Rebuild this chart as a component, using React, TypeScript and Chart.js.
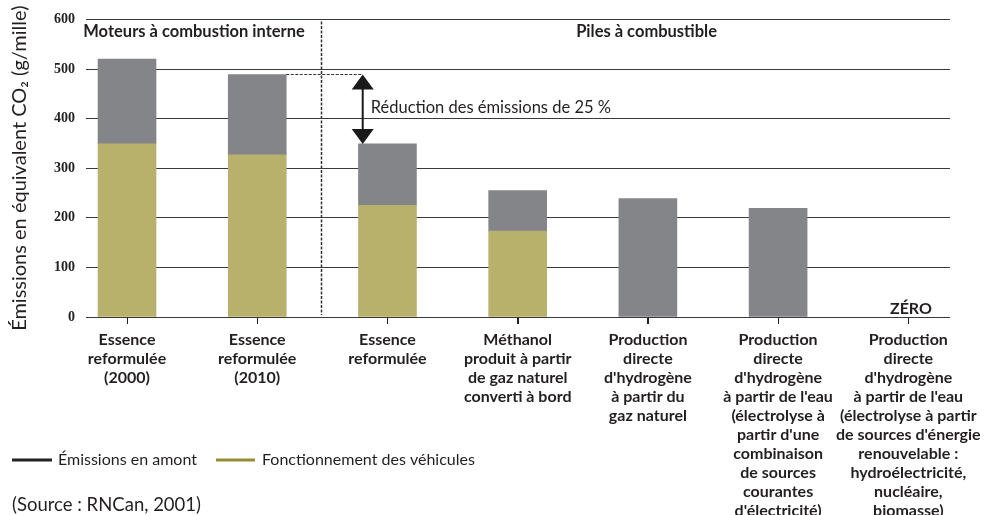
import React, { useEffect, useRef } from "react";
import { Chart, registerables } from "chart.js";

Chart.register(...registerables);

const categories: string[][] = [
  ["Essence", "reformulée", "(2000)"],
  ["Essence", "reformulée", "(2010)"],
  ["Essence", "reformulée"],
  ["Méthanol", "produit à partir", "de gaz naturel", "converti à bord"],
  ["Production", "directe", "d'hydrogène", "à partir du", "gaz naturel"],
  ["Production", "directe", "d'hydrogène", "à partir de l'eau", "(électrolyse à", "partir d'une", "combinaison", "de sources", "courantes", "d'électricité)"],
  ["Production", "directe", "d'hydrogène", "à partir de l'eau", "(électrolyse à partir", "de sources d'énergie", "renouvelable :", "hydroélectricité,", "nucléaire,", "biomasse)"],
];

const vehicleOps: number[] = [349, 327, 225, 173, 0, 0, 0];
const upstream: number[] = [171, 162, 124, 82, 239, 219, 0];
const yTicks: number[] = [0, 100, 200, 300, 400, 500, 600];

const seriesNames = ["Fonctionnement des véhicules", "Émissions en amont"];
const sectionLabels = ["Moteurs à combustion interne", "Piles à combustible"];
const reductionLabel = "Réduction des émissions de 25 %";
const zeroLabel = "ZÉRO";
const sourceLabel = "(Source : RNCan, 2001)";
const yTitle = "Émissions en équivalent CO₂ (g/mille)";

const SANS = "Lato, 'Open Sans', sans-serif";
const SERIF = "'Liberation Serif', 'DejaVu Serif', serif";
const TEXT = "#231f20";
const GRAY = "#848589";
const OLIVE = "#b8b16c";

const annotations = {
  id: "annotations",
  afterDraw(chart: any) {
    const ctx = chart.ctx as CanvasRenderingContext2D;
    const x = chart.scales.x;
    const y = chart.scales.y;
    const area = chart.chartArea;
    ctx.save();

    // category tick marks
    ctx.strokeStyle = "#222";
    ctx.lineWidth = 1;
    categories.forEach((_, i) => {
      const px = Math.round(x.getPixelForValue(i)) + 0.5;
      ctx.beginPath();
      ctx.moveTo(px, area.bottom);
      ctx.lineTo(px, area.bottom + 7);
      ctx.stroke();
    });

    // divider between engine types
    const dx = Math.round(x.getPixelForValue(1.49)) + 0.5;
    ctx.strokeStyle = "#333";
    ctx.lineWidth = 1.5;
    ctx.setLineDash([3, 1.5]);
    ctx.beginPath();
    ctx.moveTo(dx, area.top + 2);
    ctx.lineTo(dx, area.bottom - 2);
    ctx.stroke();

    // section labels
    ctx.setLineDash([]);
    ctx.fillStyle = TEXT;
    ctx.font = `bold 16.5px ${SANS}`;
    ctx.textAlign = "center";
    ctx.textBaseline = "middle";
    ctx.fillText(sectionLabels[0], x.getPixelForValue(0.515), 32);
    ctx.fillText(sectionLabels[1], x.getPixelForValue(3.99), 32);

    // reduction arrow
    const top2 = y.getPixelForValue(vehicleOps[1] + upstream[1]);
    const top3 = y.getPixelForValue(vehicleOps[2] + upstream[2]);
    const ax = x.getPixelForValue(1.81);
    const barRight = x.getPixelForValue(1) + 29;
    ctx.strokeStyle = "#333";
    ctx.lineWidth = 1;
    ctx.setLineDash([3, 1.5]);
    ctx.beginPath();
    ctx.moveTo(barRight, Math.round(top2) + 0.5);
    ctx.lineTo(ax, Math.round(top2) + 0.5);
    ctx.stroke();
    ctx.setLineDash([]);
    ctx.strokeStyle = "#1a1a1a";
    ctx.lineWidth = 2;
    ctx.beginPath();
    ctx.moveTo(ax, top2 + 10);
    ctx.lineTo(ax, top3 - 10);
    ctx.stroke();
    ctx.fillStyle = "#1a1a1a";
    ctx.beginPath();
    ctx.moveTo(ax, top2);
    ctx.lineTo(ax - 11, top2 + 15);
    ctx.lineTo(ax + 11, top2 + 15);
    ctx.closePath();
    ctx.fill();
    ctx.beginPath();
    ctx.moveTo(ax, top3);
    ctx.lineTo(ax - 11, top3 - 15);
    ctx.lineTo(ax + 11, top3 - 15);
    ctx.closePath();
    ctx.fill();

    ctx.fillStyle = TEXT;
    ctx.font = `16.5px ${SANS}`;
    ctx.textAlign = "left";
    ctx.fillText(reductionLabel, ax + 8, (top2 + top3) / 2 - 2);

    // zero label
    ctx.font = `bold 16px ${SANS}`;
    ctx.textAlign = "center";
    ctx.textBaseline = "alphabetic";
    ctx.fillText(zeroLabel, x.getPixelForValue(6.02), y.getPixelForValue(0) - 3);

    // legend
    ctx.textBaseline = "middle";
    ctx.textAlign = "left";
    ctx.font = `16px ${SANS}`;
    ctx.lineWidth = 3;
    ctx.strokeStyle = "#222";
    ctx.beginPath();
    ctx.moveTo(12, 460);
    ctx.lineTo(52, 460);
    ctx.stroke();
    ctx.fillText(seriesNames[1], 58, 460);
    ctx.strokeStyle = "#978d2e";
    ctx.beginPath();
    ctx.moveTo(216, 460);
    ctx.lineTo(255, 460);
    ctx.stroke();
    ctx.fillText(seriesNames[0], 262, 460);

    // source
    ctx.font = `18.5px ${SANS}`;
    ctx.fillText(sourceLabel, 12, 505);
    ctx.restore();
  },
};

export default function App() {
  const ref = useRef<HTMLCanvasElement | null>(null);
  useEffect(() => {
    document.body.style.margin = "0";
    const canvas = ref.current;
    if (!canvas) return;
    const chart = new Chart(canvas, {
      type: "bar",
      data: {
        datasets: [
          {
            label: seriesNames[0],
            data: vehicleOps.map((v, i) => ({ x: i, y: v === 0 ? null : v })),
            backgroundColor: OLIVE,
            borderWidth: 0,
            barThickness: 58,
          },
          {
            label: seriesNames[1],
            data: upstream.map((v, i) => ({ x: i, y: v === 0 ? null : v })),
            backgroundColor: GRAY,
            borderWidth: 0,
            barThickness: 58,
          },
        ],
      },
      options: {
        animation: false,
        responsive: false,
        layout: { padding: { top: 16, right: 37, left: 0, bottom: 0 } },
        plugins: { legend: { display: false }, tooltip: { enabled: false } },
        scales: {
          x: {
            type: "linear",
            stacked: true,
            min: -0.315,
            max: 6.32,
            offset: false,
            border: { display: false },
            grid: {
              offset: false,
              drawOnChartArea: false,
              drawTicks: true,
              tickLength: 7,
              lineWidth: 1,
              color: "#222",
            },
            ticks: {
              stepSize: 1,
              includeBounds: false,
              autoSkip: false,
              maxRotation: 0,
              minRotation: 0,
              padding: 6,
              color: TEXT,
              font: { family: SANS, size: 16, weight: "bold", lineHeight: 1.19 },
              callback: (value: any) => {
                const i = Math.round(Number(value));
                if (Math.abs(Number(value) - i) > 1e-6 || i < 0 || i >= categories.length) return null;
                return categories[i];
              },
            },
            afterFit: (scale: any) => {
              scale.height = 198;
              scale.paddingLeft = 0;
              scale.paddingRight = 0;
            },
          },
          y: {
            stacked: true,
            min: yTicks[0],
            max: yTicks[yTicks.length - 1],
            border: { display: false },
            grid: { color: "#3a3a3a", lineWidth: 1, drawTicks: false },
            ticks: {
              stepSize: 100,
              padding: 11,
              color: TEXT,
              font: { family: SERIF, size: 14, weight: "bold" },
            },
            title: {
              display: true,
              text: yTitle,
              color: TEXT,
              font: { family: SANS, size: 20 },
              padding: { top: 8, bottom: 0 },
            },
            afterFit: (scale: any) => {
              scale.width = 86;
            },
          },
        },
      },
      plugins: [annotations],
    });
    return () => chart.destroy();
  }, []);
  return (
    <div style={{ width: 987, height: 515 }}>
      <canvas ref={ref} width={987} height={515} style={{ display: "block" }} />
    </div>
  );
}
